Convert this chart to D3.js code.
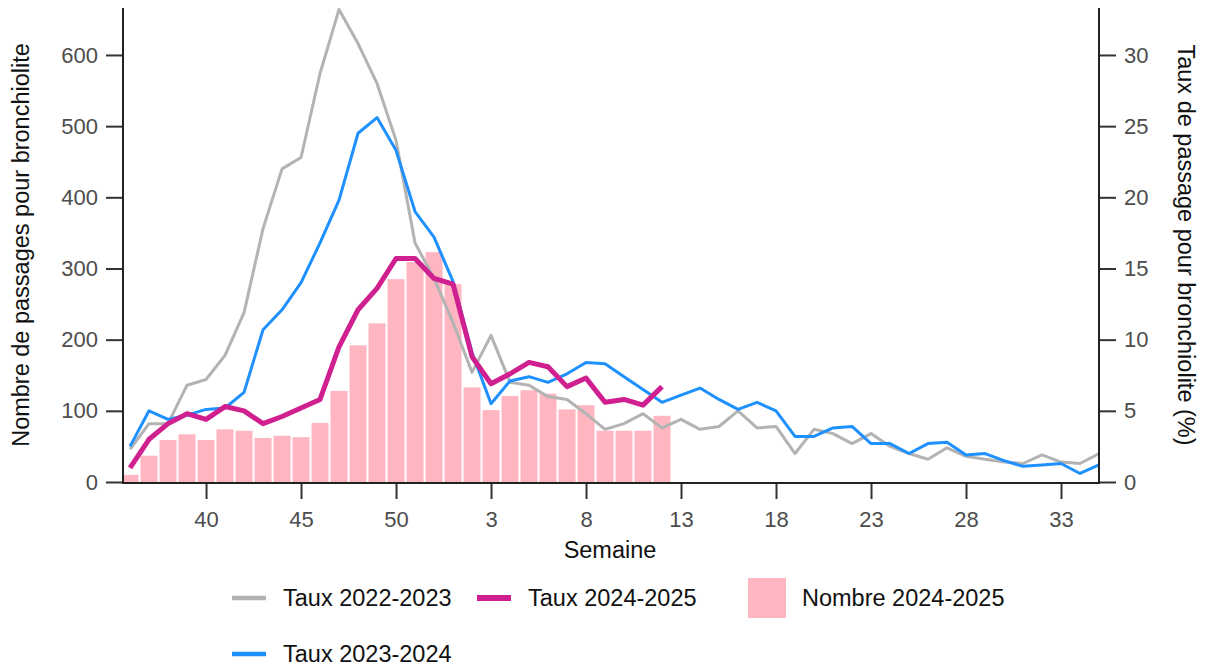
<!DOCTYPE html>
<html><head><meta charset="utf-8">
<script src="https://cdn.jsdelivr.net/npm/d3@7"></script>
<style>
html,body{margin:0;padding:0;background:#fff;}
svg text{font-family:"Liberation Sans",Arial,sans-serif;}
</style></head>
<body><svg id="c" width="1206" height="667"></svg>
<script>
const weeks = [36,37,38,39,40,41,42,43,44,45,46,47,48,49,50,51,52,1,2,3,4,5,6,7,8,9,10,11,12,13,14,15,16,17,18,19,20,21,22,23,24,25,26,27,28,29,30,31,32,33,34,35];
const tickWeeks = [40,45,50,3,8,13,18,23,28,33];
const leftTicks = [0,100,200,300,400,500,600];
const rightTicks = [0,5,10,15,20,25,30];
const taux2022 = [2.3,4.1,4.1,6.8,7.2,8.9,11.9,17.8,22.0,22.8,28.7,33.2,30.8,28.0,24.0,16.8,14.3,11.2,7.7,10.3,7.0,6.8,6.0,5.8,4.8,3.7,4.1,4.8,3.8,4.4,3.7,3.9,5.0,3.8,3.9,2.0,3.7,3.4,2.7,3.4,2.5,2.0,1.6,2.4,1.8,1.6,1.4,1.3,1.9,1.4,1.3,2.0];
const taux2023 = [2.5,5.0,4.4,4.7,5.1,5.2,6.3,10.7,12.1,14.0,16.8,19.8,24.5,25.6,23.3,19.0,17.2,14.1,9.1,5.5,7.1,7.4,7.0,7.6,8.4,8.3,7.4,6.5,5.6,6.1,6.6,5.8,5.1,5.6,5.0,3.2,3.2,3.8,3.9,2.7,2.7,2.0,2.7,2.8,1.9,2.0,1.5,1.1,1.2,1.3,0.6,1.2];
const taux2024 = [1.0,3.0,4.1,4.8,4.4,5.3,5.0,4.1,4.6,5.2,5.8,9.5,12.1,13.6,15.7,15.7,14.3,13.9,8.8,6.9,7.6,8.4,8.1,6.7,7.3,5.6,5.8,5.4,6.7];
const nombre2024 = [10,37,59,67,59,74,72,62,65,63,83,128,192,223,285,309,323,278,133,101,121,129,124,102,108,72,72,72,93];

const svg = d3.select("#c");
const L = 123, R = 1099, T = 8, B = 482;
const x = d3.scaleLinear().domain([-0.37, weeks.length-1]).range([L, R]);
const yL = d3.scaleLinear().domain([0, 666]).range([B, T]);
const yR = d3.scaleLinear().domain([0, 33.3]).range([B, T]);

svg.append("clipPath").attr("id","clip").append("rect")
  .attr("x",L).attr("y",T).attr("width",R-L).attr("height",B-T);
const g = svg.append("g").attr("clip-path","url(#clip)");

// bars
g.selectAll("rect.bar").data(nombre2024).join("rect").attr("class","bar")
  .attr("x",(d,i)=>x(i)-8.5).attr("width",17)
  .attr("y",d=>yL(d)).attr("height",d=>yL(0)-yL(d))
  .attr("fill","#FFB6C1");

const line = d3.line().x((d,i)=>x(i)).y(d=>yR(d));
g.append("path").datum(taux2022).attr("d",line).attr("fill","none").attr("stroke","#B3B3B3").attr("stroke-width",3).attr("stroke-linejoin","round");
g.append("path").datum(taux2023).attr("d",line).attr("fill","none").attr("stroke","#1E90FF").attr("stroke-width",3).attr("stroke-linejoin","round");
g.append("path").datum(taux2024).attr("d",line).attr("fill","none").attr("stroke","#D02090").attr("stroke-width",5).attr("stroke-linejoin","round");

// axes
const axColor = "#333";
const lab = "#4D4D4D";
const ax = svg.append("g").attr("transform",`translate(${L},0)`)
  .call(d3.axisLeft(yL).tickValues(leftTicks).tickSize(17).tickPadding(8));
const ar = svg.append("g").attr("transform",`translate(${R},0)`)
  .call(d3.axisRight(yR).tickValues(rightTicks).tickSize(17).tickPadding(8));
const idx = tickWeeks.map(w=>weeks.indexOf(w));
const ab = svg.append("g").attr("transform",`translate(0,${B+1})`)
  .call(d3.axisBottom(x).tickValues(idx).tickFormat(i=>weeks[i]).tickSize(16).tickPadding(12));
[ax,ar,ab].forEach(a=>{
  a.select(".domain").remove();
  a.selectAll(".tick line").attr("stroke",axColor).attr("stroke-width",2);
  a.selectAll(".tick text").attr("fill",lab).style("font-size","22px");
});
svg.append("line").attr("x1",L).attr("x2",L).attr("y1",T).attr("y2",B+2).attr("stroke","#222").attr("stroke-width",2);
svg.append("line").attr("x1",R).attr("x2",R).attr("y1",T).attr("y2",B+2).attr("stroke","#222").attr("stroke-width",2);
svg.append("line").attr("x1",L-1).attr("x2",R+1).attr("y1",B+1).attr("y2",B+1).attr("stroke","#222").attr("stroke-width",2);

svg.append("text").attr("transform",`translate(21,${(T+B)/2}) rotate(-90)`).attr("text-anchor","middle")
  .attr("dominant-baseline","central").style("font-size","23.5px").attr("fill","#111").text("Nombre de passages pour bronchiolite");
svg.append("text").attr("transform",`translate(1186,${(T+B)/2}) rotate(90)`).attr("text-anchor","middle")
  .attr("dominant-baseline","central").style("font-size","23.5px").attr("fill","#111").text("Taux de passage pour bronchiolite (%)");
svg.append("text").attr("x",(L+R)/2 - 1).attr("y",550).attr("text-anchor","middle")
  .attr("dominant-baseline","central").style("font-size","23.5px").attr("fill","#111").text("Semaine");

// legend
const leg = svg.append("g");
const items = [
  {t:"Taux 2022-2023", c:"#B3B3B3", w:4.5, x:232, y:598},
  {t:"Taux 2024-2025", c:"#D02090", w:6, x:477, y:598},
  {t:"Taux 2023-2024", c:"#1E90FF", w:4.5, x:232, y:654}
];
items.forEach(it=>{
  leg.append("line").attr("x1",it.x).attr("x2",it.x+34).attr("y1",it.y).attr("y2",it.y).attr("stroke",it.c).attr("stroke-width",it.w);
  leg.append("text").attr("x",it.x+51).attr("y",it.y).attr("dominant-baseline","central").style("font-size","23.5px").attr("fill","#111").text(it.t);
});
leg.append("rect").attr("x",748).attr("y",578).attr("width",38).attr("height",40).attr("fill","#FFB6C1");
leg.append("text").attr("x",802).attr("y",598).attr("dominant-baseline","central").style("font-size","23.5px").attr("fill","#111").text("Nombre 2024-2025");
</script></body></html>
